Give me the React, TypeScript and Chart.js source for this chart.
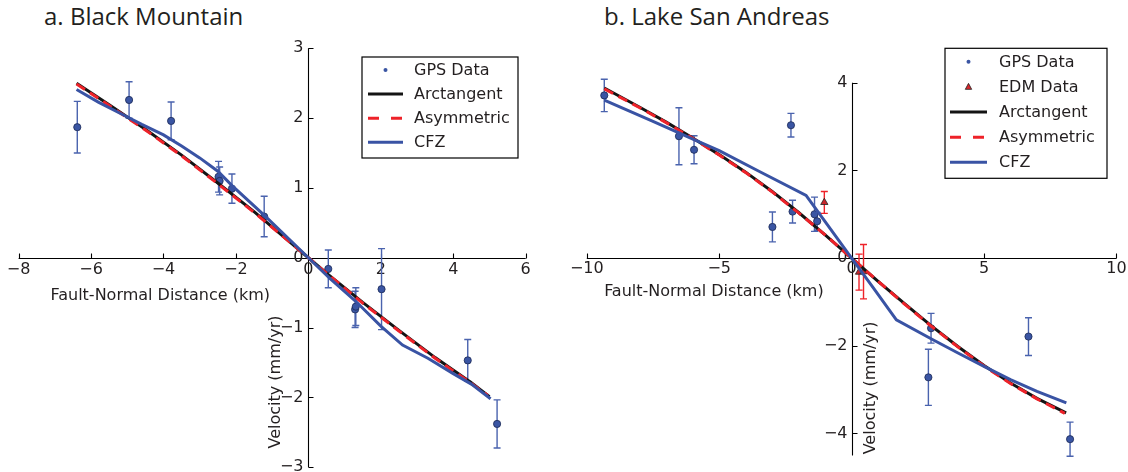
import { useEffect, useRef } from "react";
import { Chart, registerables } from "chart.js";

Chart.register(...registerables);

// ---------- Panel a: Black Mountain ----------
const aXTicks = [-8, -6, -4, -2, 0, 2, 4, 6];
const aYTicks = [-3, -2, -1, 0, 1, 2, 3];

const aGpsX = [-6.38, -4.95, -3.79, -2.48, -2.45, -2.11, -1.22, 0.55, 1.29, 1.31, 2.02, 4.4, 5.21];
const aGpsY = [1.87, 2.26, 1.96, 1.16, 1.1, 0.99, 0.59, -0.16, -0.74, -0.7, -0.45, -1.47, -2.38];
const aGpsErr = [0.37, 0.26, 0.27, 0.22, 0.2, 0.21, 0.29, 0.27, 0.26, 0.27, 0.58, 0.3, 0.345];

const aArcX = [-6.4, -5.5, -4.5, -3.5, -2.5, -1.5, -0.5, 0, 0.5, 1.5, 2.5, 3.5, 4.5, 5.0];
const aArcY = [2.5, 2.19, 1.84, 1.47, 1.07, 0.66, 0.22, 0, -0.22, -0.64, -1.04, -1.43, -1.79, -1.99];

const aAsymX = [-6.4, -5.5, -4.5, -3.5, -2.5, -1.5, -0.5, 0, 0.5, 1.5, 2.5, 3.5, 4.5, 4.95];
const aAsymY = [2.49, 2.18, 1.83, 1.46, 1.06, 0.65, 0.22, 0, -0.22, -0.65, -1.05, -1.44, -1.8, -1.97];

const aCfzX = [-6.4, -5.8, -5.2, -4.6, -4.0, -3.5, -3.0, -2.5, -2.1, -1.2, 0, 0.6, 1.3, 2.0, 2.6, 3.3, 4.0, 4.5, 5.03];
const aCfzY = [2.41, 2.23, 2.07, 1.91, 1.76, 1.6, 1.43, 1.24, 1.03, 0.6, 0, -0.3, -0.62, -0.98, -1.25, -1.44, -1.66, -1.81, -2.02];

// ---------- Panel b: Lake San Andreas ----------
const bXTicks = [-10, -5, 0, 5, 10];
const bYTicks = [-4, -2, 0, 2, 4];

const bGpsX = [-9.34, -6.52, -5.95, -2.99, -2.29, -2.23, -1.4, -1.3, 3.0, 2.9, 6.68, 8.25];
const bGpsY = [3.71, 2.78, 2.47, 0.71, 3.03, 1.06, 1.0, 0.84, -1.6, -2.72, -1.79, -4.13];
const bGpsErr = [0.37, 0.65, 0.32, 0.34, 0.27, 0.26, 0.39, 0.2, 0.34, 0.64, 0.43, 0.39];

const bEdmX = [-1.03, 0.28, 0.45];
const bEdmY = [1.27, -0.32, -0.31];
const bEdmErr = [0.25, 0.41, 0.62];

const bArcX = [-9.34, -8, -7, -6, -5, -4, -3, -2, -1, 0, 1, 2, 3, 4, 5, 6, 7, 8.1];
const bArcY = [3.88, 3.44, 3.1, 2.74, 2.36, 1.96, 1.52, 1.04, 0.53, 0, -0.53, -1.04, -1.54, -2.01, -2.45, -2.85, -3.2, -3.53];

const bAsymX = [-9.34, -8, -7, -6, -5, -4, -3, -2, -1, 0, 1, 2, 3, 4, 5, 6, 7, 8.05];
const bAsymY = [3.86, 3.43, 3.09, 2.73, 2.35, 1.95, 1.51, 1.03, 0.53, 0, -0.53, -1.05, -1.55, -2.02, -2.46, -2.86, -3.21, -3.54];

const bCfzX = [-9.34, -7.5, -5.95, -5, -3.5, -1.72, -1.0, 0, 0.8, 1.69, 3.0, 4.0, 5.0, 6.0, 7.0, 8.11];
const bCfzY = [3.6, 3.12, 2.7, 2.45, 1.98, 1.43, 0.83, 0, -0.66, -1.41, -1.84, -2.16, -2.47, -2.77, -3.04, -3.3];

// ---------- styling ----------
const TEXT = "#231f20";
const FONT = "'DejaVu Sans', sans-serif";
const BLUE = "#3953a4";
const BLUE_BAR = "#4a63ae";
const MARKER_FILL = "#3a55a3";
const MARKER_EDGE = "#1c2a55";
const RED = "#ee2229";
const BLACK = "#141414";

const pts = (xs: number[], ys: number[]) => xs.map((x, i) => ({ x, y: ys[i] }));
const fmt = (v: number) => (v < 0 ? "\u2212" + Math.abs(v) : String(v));

type LegendItem = { label: string; kind: "dot" | "tri" | "line"; color: string; dash?: number[] };

// Axis lines, inward tick marks, tick labels, axis titles and error bars.
const decorPlugin = {
  id: "panelDecor",
  beforeDatasetsDraw(chart: any, _args: any, opts: any) {
    const { ctx, chartArea } = chart;
    const xs = chart.scales.x;
    const ys = chart.scales.y;
    const x0 = Math.round(xs.getPixelForValue(0)) + 0.5;
    const y0 = Math.round(ys.getPixelForValue(0)) + 0.5;
    ctx.save();
    ctx.strokeStyle = "#000";
    ctx.lineWidth = 1.1;
    ctx.beginPath();
    ctx.moveTo(chartArea.left, y0);
    ctx.lineTo(chartArea.right, y0);
    ctx.moveTo(x0, chartArea.top);
    ctx.lineTo(x0, chartArea.bottom);
    for (const t of xs.ticks) {
      const px = Math.round(xs.getPixelForValue(t.value)) + 0.5;
      ctx.moveTo(px, y0);
      ctx.lineTo(px, y0 - 5);
    }
    for (const t of ys.ticks) {
      const py = Math.round(ys.getPixelForValue(t.value)) + 0.5;
      ctx.moveTo(x0, py);
      ctx.lineTo(x0 + 5, py);
    }
    ctx.stroke();

    ctx.fillStyle = TEXT;
    ctx.font = `16px ${FONT}`;
    ctx.textAlign = "center";
    ctx.textBaseline = "middle";
    for (const t of xs.ticks) {
      ctx.fillText(fmt(t.value), xs.getPixelForValue(t.value), y0 + opts.xLabelGap);
    }
    ctx.textAlign = "right";
    for (const t of ys.ticks) {
      ctx.fillText(fmt(t.value), x0 - 5, ys.getPixelForValue(t.value));
    }

    // axis titles
    ctx.textAlign = "center";
    ctx.fillText(opts.xTitle, xs.getPixelForValue(opts.xTitleAt), y0 + opts.xTitleGap);
    ctx.save();
    ctx.translate(x0 + opts.yTitleDx, ys.getPixelForValue(opts.yTitleAt));
    ctx.rotate(-Math.PI / 2);
    ctx.fillText(opts.yTitle, 0, 0);
    ctx.restore();

    // error bars
    for (const set of opts.errorSets) {
      ctx.strokeStyle = set.color;
      ctx.lineWidth = 1.4;
      ctx.beginPath();
      set.x.forEach((xv: number, i: number) => {
        const px = xs.getPixelForValue(xv);
        const top = ys.getPixelForValue(set.y[i] + set.err[i]);
        const bot = ys.getPixelForValue(set.y[i] - set.err[i]);
        ctx.moveTo(px, top);
        ctx.lineTo(px, bot);
        ctx.moveTo(px - 3.5, top);
        ctx.lineTo(px + 3.5, top);
        ctx.moveTo(px - 3.5, bot);
        ctx.lineTo(px + 3.5, bot);
      });
      ctx.stroke();
    }
    ctx.restore();
  },
  afterDraw(chart: any, _args: any, opts: any) {
    const lg = opts.legend;
    if (!lg) return;
    const { ctx } = chart;
    ctx.save();
    const [l, t, r, b] = lg.box;
    ctx.fillStyle = "#fff";
    ctx.fillRect(l, t, r - l, b - t);
    ctx.strokeStyle = "#000";
    ctx.lineWidth = 1.2;
    ctx.strokeRect(l, t, r - l, b - t);
    ctx.font = `16px ${FONT}`;
    ctx.textAlign = "left";
    ctx.textBaseline = "middle";
    lg.items.forEach((it: LegendItem, i: number) => {
      const y = lg.row0 + i * lg.rowGap;
      const cx = (lg.sample0 + lg.sample1) / 2;
      if (it.kind === "dot") {
        ctx.fillStyle = it.color;
        ctx.beginPath();
        ctx.arc(cx, y, 2, 0, Math.PI * 2);
        ctx.fill();
      } else if (it.kind === "tri") {
        ctx.fillStyle = it.color;
        ctx.strokeStyle = "#222";
        ctx.lineWidth = 0.8;
        ctx.beginPath();
        ctx.moveTo(cx, y - 3.5);
        ctx.lineTo(cx + 3.2, y + 2.5);
        ctx.lineTo(cx - 3.2, y + 2.5);
        ctx.closePath();
        ctx.fill();
        ctx.stroke();
      } else {
        ctx.strokeStyle = it.color;
        ctx.lineWidth = 3;
        ctx.setLineDash(it.dash || []);
        ctx.beginPath();
        ctx.moveTo(lg.sample0, y);
        ctx.lineTo(lg.sample1, y);
        ctx.stroke();
        ctx.setLineDash([]);
      }
      ctx.fillStyle = TEXT;
      ctx.fillText(it.label, lg.textX, y + 1);
    });
    ctx.restore();
  },
};

const lineSet = (label: string, xs: number[], ys: number[], color: string, order: number, dash?: number[]) => ({
  label,
  data: pts(xs, ys),
  showLine: true,
  borderColor: color,
  borderWidth: 3,
  borderDash: dash || [],
  pointRadius: 0,
  tension: 0,
  fill: false,
  clip: false as any,
  order,
});

const gpsSet = (xs: number[], ys: number[]) => ({
  label: "GPS Data",
  data: pts(xs, ys),
  showLine: false,
  pointRadius: 3.6,
  pointBackgroundColor: MARKER_FILL,
  pointBorderColor: MARKER_EDGE,
  pointBorderWidth: 0.8,
  clip: false as any,
  order: 6,
});

function axes(xMin: number, xMax: number, yMin: number, yMax: number, xTicks: number[], yTicks: number[]) {
  return {
    x: {
      type: "linear" as const,
      min: xMin,
      max: xMax,
      position: { y: 0 },
      afterBuildTicks: (ax: any) => {
        ax.ticks = xTicks.map((value) => ({ value }));
      },
      ticks: { display: false },
      grid: { display: false, drawTicks: false },
      border: { display: false },
    },
    y: {
      type: "linear" as const,
      min: yMin,
      max: yMax,
      position: { x: 0 },
      afterBuildTicks: (ax: any) => {
        ax.ticks = yTicks.map((value) => ({ value }));
      },
      ticks: { display: false },
      grid: { display: false, drawTicks: false },
      border: { display: false },
    },
  };
}

function configA(): any {
  return {
    type: "scatter",
    data: {
      datasets: [
        gpsSet(aGpsX, aGpsY),
        lineSet("Arctangent", aArcX, aArcY, BLACK, 3),
        lineSet("Asymmetric", aAsymX, aAsymY, RED, 2, [10, 6]),
        lineSet("CFZ", aCfzX, aCfzY, BLUE, 1),
      ],
    },
    options: {
      responsive: false,
      devicePixelRatio: 1,
      animation: false,
      events: [],
      layout: { padding: { left: 18.6, right: 38.3, top: 48.3, bottom: 3.7 } },
      scales: axes(-8, 6, -3, 3, aXTicks, aYTicks),
      plugins: {
        legend: { display: false },
        tooltip: { enabled: false },
        panelDecor: {
          xLabelGap: 11,
          xTitle: "Fault-Normal Distance (km)",
          xTitleAt: -4.09,
          xTitleGap: 37,
          yTitle: "Velocity (mm/yr)",
          yTitleAt: -1.78,
          yTitleDx: -33,
          errorSets: [{ x: aGpsX, y: aGpsY, err: aGpsErr, color: BLUE_BAR }],
          legend: {
            box: [362, 57, 518, 158],
            row0: 70,
            rowGap: 24.1,
            sample0: 368,
            sample1: 403,
            textX: 414,
            items: [
              { label: "GPS Data", kind: "dot", color: MARKER_FILL },
              { label: "Arctangent", kind: "line", color: BLACK },
              { label: "Asymmetric", kind: "line", color: RED, dash: [11, 12] },
              { label: "CFZ", kind: "line", color: BLUE },
            ],
          },
        },
      },
    },
    plugins: [decorPlugin],
  };
}

function configB(): any {
  return {
    type: "scatter",
    data: {
      datasets: [
        gpsSet(bGpsX, bGpsY),
        {
          label: "EDM Data",
          data: pts(bEdmX, bEdmY),
          showLine: false,
          pointStyle: "triangle",
          pointRadius: 4.2,
          pointBackgroundColor: "#c8262c",
          pointBorderColor: "#222",
          pointBorderWidth: 0.8,
          clip: false,
          order: 5,
        },
        lineSet("Arctangent", bArcX, bArcY, BLACK, 3),
        lineSet("Asymmetric", bAsymX, bAsymY, RED, 2, [10, 6]),
        lineSet("CFZ", bCfzX, bCfzY, BLUE, 1),
      ],
    },
    options: {
      responsive: false,
      devicePixelRatio: 1,
      animation: false,
      events: [],
      layout: { padding: { left: 22.8, right: 11.6, top: 82.7, bottom: 16.6 } },
      scales: axes(-10, 10, -4.5, 4, bXTicks, bYTicks),
      plugins: {
        legend: { display: false },
        tooltip: { enabled: false },
        panelDecor: {
          xLabelGap: 10.5,
          xTitle: "Fault-Normal Distance (km)",
          xTitleAt: -5.2,
          xTitleGap: 33.5,
          yTitle: "Velocity (mm/yr)",
          yTitleAt: -2.96,
          yTitleDx: 18,
          errorSets: [
            { x: bGpsX, y: bGpsY, err: bGpsErr, color: BLUE_BAR },
            { x: bEdmX, y: bEdmY, err: bEdmErr, color: RED },
          ],
          legend: {
            box: [381, 48.3, 543, 178.3],
            row0: 61.7,
            rowGap: 25.15,
            sample0: 386,
            sample1: 423,
            textX: 435,
            items: [
              { label: "GPS Data", kind: "dot", color: MARKER_FILL },
              { label: "EDM Data", kind: "tri", color: "#d7262c" },
              { label: "Arctangent", kind: "line", color: BLACK },
              { label: "Asymmetric", kind: "line", color: RED, dash: [11, 12] },
              { label: "CFZ", kind: "line", color: BLUE },
            ],
          },
        },
      },
    },
    plugins: [decorPlugin],
  };
}

const titleStyle = (left: number): React.CSSProperties => ({
  position: "absolute",
  left,
  top: 4,
  fontFamily: "'Open Sans', sans-serif",
  fontSize: 24,
  lineHeight: "24px",
  color: TEXT,
  whiteSpace: "nowrap",
});

export default function App() {
  const aRef = useRef<HTMLCanvasElement>(null);
  const bRef = useRef<HTMLCanvasElement>(null);

  useEffect(() => {
    const a = new Chart(aRef.current as HTMLCanvasElement, configA());
    const b = new Chart(bRef.current as HTMLCanvasElement, configB());
    return () => {
      a.destroy();
      b.destroy();
    };
  }, []);

  return (
    <div
      style={{
        position: "fixed",
        left: 0,
        top: 0,
        width: 1128,
        height: 472,
        overflow: "hidden",
        background: "#fff",
      }}
    >
      <div style={titleStyle(44)}>a. Black Mountain</div>
      <div style={titleStyle(604)}>b. Lake San Andreas</div>
      <canvas ref={aRef} width={564} height={472} style={{ position: "absolute", left: 0, top: 0 }} />
      <canvas ref={bRef} width={564} height={472} style={{ position: "absolute", left: 564, top: 0 }} />
    </div>
  );
}
